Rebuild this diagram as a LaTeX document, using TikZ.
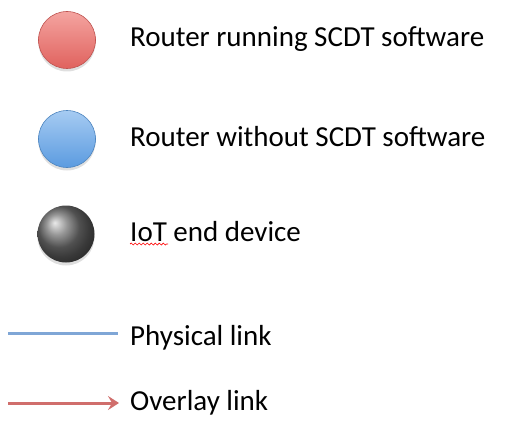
\documentclass[tikz,border=0pt]{standalone}
\usepackage{fontspec}
\setmainfont{Carlito}
\usepackage{tikz}
\usetikzlibrary{shadows,arrows.meta,decorations.pathmorphing}

\definecolor{scdtred}{HTML}{E0625E}
\definecolor{scdtredlight}{HTML}{F4A4A0}
\definecolor{plainblue}{HTML}{5B9BE0}
\definecolor{plainbluelight}{HTML}{A6CBF2}
\definecolor{physblue}{HTML}{7FA6D6}
\definecolor{overlayred}{HTML}{D06E6C}

\tikzset{
    ball/.style={circle, minimum size=57pt, inner sep=0pt,
        drop shadow={opacity=0.25, shadow xshift=0pt, shadow yshift=-3pt}},
    scdtrouter/.style={ball, draw=scdtred!85!black, line width=0.6pt,
        top color=scdtredlight, bottom color=scdtred},
    plainrouter/.style={ball, draw=plainblue!85!black, line width=0.6pt,
        top color=plainbluelight, bottom color=plainblue},
    enddevice/.style={ball, shading=ball, ball color=black!55},
    legendtext/.style={anchor=base west, inner sep=0pt, font=\fontsize{29}{33}\selectfont},
    physical/.style={physblue, line width=3pt},
    overlay/.style={overlayred, line width=3pt, -{Stealth[length=11pt, width=14pt, inset=4pt]}}
}

\begin{document}
\begin{tikzpicture}[x=1pt, y=1pt]
    \useasboundingbox (0,0) rectangle (532,440);

    % Router symbols
    \node[scdtrouter] (scdt) at (67,400) {};
    \node[plainrouter] (plain) at (67,301) {};
    \node[enddevice] (iotball) at (66,206) {};

    % Link symbols
    \coordinate (physstart) at (8,107);
    \coordinate (physend) at (118,107);
    \coordinate (ovlstart) at (8,37);
    \coordinate (ovlend) at (119,37);
    \draw[physical] (physstart) -- (physend);
    \draw[overlay] (ovlstart) -- (ovlend);

    % Legend labels
    \node[legendtext] (scdtlabel) at (130,393) {Router running SCDT software};
    \node[legendtext] (plainlabel) at (130,294) {Router without SCDT software};
    \node[legendtext] (iotlabel) at (130,199) {IoT end device};
    \node[legendtext] (physlabel) at (130,95) {Physical link};
    \node[legendtext] (ovllabel) at (130,30) {Overlay link};

    % Spell-check mark under IoT
    \draw[red, line width=0.7pt, decorate,
          decoration={snake, amplitude=1pt, segment length=4pt}]
        ([yshift=-3pt]iotlabel.base west) -- ++(38,0);
\end{tikzpicture}
\end{document}
